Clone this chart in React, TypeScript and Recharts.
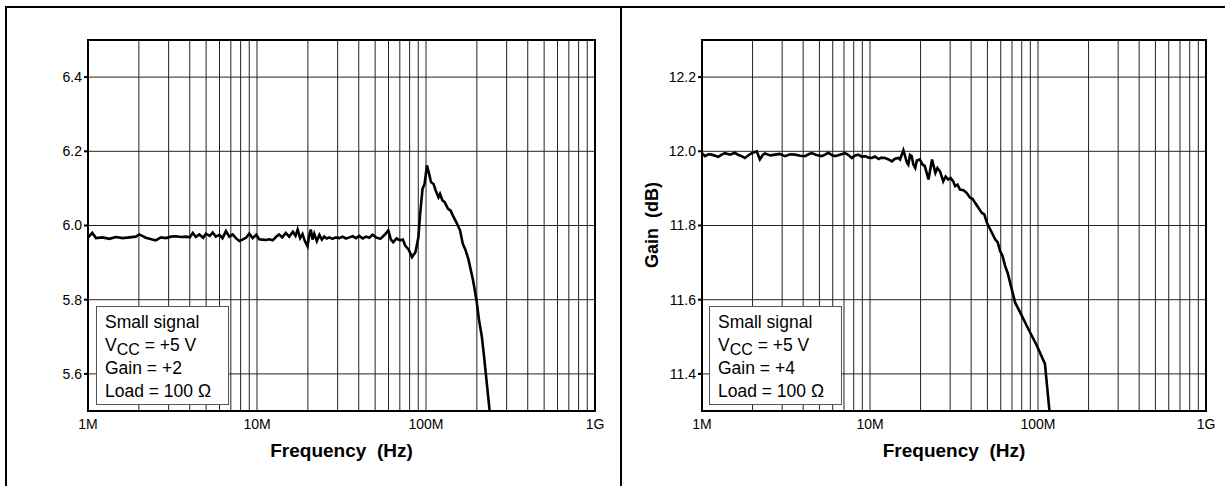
import React from 'react';
import { LineChart, Line, XAxis, YAxis, CartesianGrid, ReferenceArea } from 'recharts';

// frequency in MHz, gain in dB
const gridTicks = [1, 2, 3, 4, 5, 6, 7, 8, 9, 10, 20, 30, 40, 50, 60, 70, 80, 90, 100, 200, 300, 400, 500, 600, 700, 800, 900, 1000];
const decadeLabels: Record<number, string> = { 1: '1M', 10: '10M', 100: '100M', 1000: '1G' };

const gain2Ticks = [5.6, 5.8, 6.0, 6.2, 6.4];
const gain4Ticks = [11.4, 11.6, 11.8, 12.0, 12.2];

const gain2Freq = [
  1.0, 1.06, 1.115, 1.22, 1.34, 1.46, 1.6, 1.76, 1.92, 2.01, 2.2, 2.4, 2.52, 2.7, 2.89, 3.1, 3.32, 3.55, 3.8, 4.0,
  4.17, 4.35, 4.56, 4.8, 4.99, 5.25, 5.47, 5.7, 5.99, 6.25, 6.55, 6.85, 7.18, 7.5, 7.86, 8.2, 8.61, 9.0, 9.43, 9.9,
  10.3, 10.8, 11.3, 11.8, 12.4, 13.0, 13.5, 14.1, 14.8, 15.5, 16.3, 16.9, 17.4, 18.0, 18.6, 19.2, 19.9, 20.3, 20.8, 21.3,
  21.8, 22.6, 23.4, 24.2, 25.0, 25.9, 26.8, 28.0, 29.3, 30.7, 32.1, 33.6, 35.2, 36.8, 38.5, 40.3, 42.2, 44.2, 46.2, 48.3,
  50.6, 53.7, 57.0, 59.8, 62.0, 64.0, 67.0, 70.4, 73.0, 75.3, 79.0, 82.6, 86.6, 90.2, 92.3, 95.4, 98.1, 101.3, 104.9, 107,
  110.8, 114, 118.5, 121, 125, 129, 135, 140, 144, 150, 159, 165, 171, 178, 190, 199, 206, 214, 219, 226, 238,
];
const gain2Values = [
  5.967, 5.98, 5.966, 5.968, 5.964, 5.969, 5.966, 5.968, 5.97, 5.976, 5.967, 5.962, 5.96, 5.968, 5.966, 5.97, 5.971, 5.969, 5.97, 5.968,
  5.98, 5.969, 5.976, 5.967, 5.978, 5.972, 5.981, 5.97, 5.975, 5.966, 5.985, 5.97, 5.976, 5.966, 5.958, 5.962, 5.967, 5.978, 5.966, 5.975,
  5.963, 5.962, 5.961, 5.963, 5.96, 5.97, 5.976, 5.968, 5.98, 5.97, 5.983, 5.972, 5.989, 5.966, 5.977, 5.958, 5.944, 5.97, 5.989, 5.962,
  5.978, 5.958, 5.975, 5.962, 5.97, 5.965, 5.968, 5.964, 5.968, 5.966, 5.97, 5.965, 5.968, 5.971, 5.966, 5.972, 5.965, 5.97, 5.967, 5.975,
  5.968, 5.964, 5.975, 5.987, 5.962, 5.955, 5.965, 5.96, 5.962, 5.946, 5.935, 5.915, 5.928, 5.969, 6.031, 6.099, 6.112, 6.162, 6.135, 6.117,
  6.112, 6.095, 6.076, 6.085, 6.068, 6.063, 6.045, 6.04, 6.027, 6.012, 5.987, 5.951, 5.935, 5.91, 5.852, 5.798, 5.745, 5.7, 5.66, 5.6, 5.5,
];

const gain4Freq = [
  1.0, 1.042, 1.09, 1.14, 1.2, 1.25, 1.31, 1.37, 1.47, 1.57, 1.65, 1.72, 1.8, 1.9, 1.98, 2.12, 2.21, 2.3, 2.37, 2.55,
  2.72, 2.9, 3.12, 3.35, 3.58, 3.85, 4.11, 4.3, 4.5, 4.8, 5.17, 5.4, 5.66, 5.95, 6.2, 6.6, 7.11, 7.45, 7.8, 8.15,
  8.54, 8.95, 9.36, 9.8, 10.26, 10.7, 11.24, 11.7, 12.3, 12.9, 13.5, 14.1, 14.78, 15.1, 15.8, 16.1, 16.6, 16.9, 17.3, 17.7,
  18.1, 18.6, 19.0, 19.8, 20.5, 21.2, 22.3, 23.4, 24.5, 25.2, 26.1, 27.3, 28.2, 29.2, 30.2, 31.3, 32.1, 33.2, 34.3, 36.0,
  37.6, 39.4, 40.8, 42.2, 44.2, 46.3, 47.9, 49.6, 51.9, 55.6, 57.5, 59.5, 61.5, 63.7, 66.0, 68.2, 70.5, 73.1, 78.3, 87.6,
  98.5, 110, 117,
];
const gain4Values = [
  11.995, 11.987, 11.992, 11.991, 11.988, 11.985, 11.991, 11.995, 11.991, 11.996, 11.99, 11.987, 11.982, 11.99, 11.995, 12.0, 11.978, 11.99, 11.994, 11.989,
  11.991, 11.993, 11.987, 11.992, 11.991, 11.988, 11.987, 11.992, 11.995, 11.99, 11.987, 11.991, 11.996, 11.989, 11.987, 11.991, 11.995, 11.99, 11.982, 11.989,
  11.991, 11.985, 11.987, 11.983, 11.982, 11.986, 11.979, 11.983, 11.982, 11.978, 11.973, 11.98, 11.982, 11.978, 12.003, 11.99, 11.969, 11.964, 11.99, 11.987,
  11.965, 11.955, 11.975, 11.978, 11.965, 11.96, 11.924, 11.978, 11.942, 11.955, 11.946, 11.919, 11.932, 11.924, 11.928, 11.919, 11.906, 11.91, 11.897, 11.895,
  11.888, 11.875, 11.872, 11.861, 11.848, 11.834, 11.83, 11.808, 11.79, 11.763, 11.755, 11.731, 11.718, 11.691, 11.672, 11.646, 11.62, 11.592, 11.566, 11.521,
  11.476, 11.427, 11.3,
];

const FONT = '"Liberation Sans", Arial, Helvetica, sans-serif';

interface PanelProps {
  freq: number[];
  values: number[];
  yDomain: [number, number];
  yTicks: number[];
  left: number;
  width: number;
  yAxisWidth: number;
  rightMargin: number;
  gainText: string;
  boxLeft: number;
  showYLabel?: boolean;
}

const Panel: React.FC<PanelProps> = ({ freq, values, yDomain, yTicks, left, width, yAxisWidth, rightMargin, gainText, boxLeft, showYLabel }) => {
  const data = freq.map((f, i) => ({ f, g: values[i] }));
  const plotLeft = yAxisWidth;
  const plotRight = width - rightMargin;
  return (
    <div style={{ position: 'absolute', left, top: 0, width, height: 486 }}>
      <LineChart width={width} height={486} data={data} margin={{ top: 40, right: rightMargin, left: 0, bottom: 45 }}>
        <CartesianGrid stroke="#222" strokeWidth={1} />
        <XAxis
          dataKey="f"
          type="number"
          scale="log"
          domain={[1, 1000]}
          ticks={gridTicks}
          interval={0}
          allowDataOverflow
          tickLine={false}
          axisLine={false}
          height={30}
          tickFormatter={(v: number) => decadeLabels[v] ?? ''}
          tick={{ fill: '#000', fontSize: 14, fontFamily: FONT }}
        />
        <YAxis
          type="number"
          domain={yDomain}
          ticks={yTicks}
          interval={0}
          allowDataOverflow
          width={yAxisWidth}
          tickLine={{ stroke: '#000', strokeWidth: 2 }}
          tickSize={4}
          axisLine={false}
          tickMargin={2}
          tickFormatter={(v: number) => v.toFixed(1)}
          tick={{ fill: '#000', fontSize: 14, fontFamily: FONT }}
        />
        <ReferenceArea x1={1} x2={1000} y1={yDomain[0]} y2={yDomain[1]} fill="none" stroke="#000" strokeWidth={2} />
        <Line dataKey="g" type="linear" stroke="#000" strokeWidth={2.6} dot={false} isAnimationActive={false} />
      </LineChart>
      <div
        style={{
          position: 'absolute', left: boxLeft, top: 306, width: 133, height: 99,
          border: '1px solid #555', background: '#fff', boxSizing: 'border-box', whiteSpace: 'nowrap',
          fontFamily: FONT, fontSize: 17.5, lineHeight: '22.5px', padding: '4px 0 0 8px', color: '#000',
        }}
      >
        <div>Small signal</div>
        <div>V<span style={{ fontSize: 16, position: 'relative', top: 4 }}>CC</span> = +5 V</div>
        <div>{gainText}</div>
        <div>Load = 100 Ω</div>
      </div>
      <div
        style={{
          position: 'absolute', left: plotLeft, width: plotRight - plotLeft, top: 439, textAlign: 'center',
          fontFamily: FONT, fontSize: 19, fontWeight: 'bold', color: '#000', whiteSpace: 'pre', lineHeight: '24px',
        }}
      >
        {'Frequency  (Hz)'}
      </div>
      {showYLabel && (
        <div
          style={{
            position: 'absolute', left: 32 - 60, top: 225 - 12, width: 120, height: 24, textAlign: 'center',
            transform: 'rotate(-90deg)', fontFamily: FONT, fontSize: 18, fontWeight: 'bold', color: '#000',
            lineHeight: '24px', whiteSpace: 'pre',
          }}
        >
          {'Gain  (dB)'}
        </div>
      )}
    </div>
  );
};

export default function App() {
  return (
    <div style={{ position: 'absolute', left: 0, top: 0, width: 1225, height: 486, background: '#fff', overflow: 'hidden' }}>
      <Panel
        freq={gain2Freq}
        values={gain2Values}
        yDomain={[5.5, 6.5]}
        yTicks={gain2Ticks}
        left={0}
        width={620}
        yAxisWidth={88}
        rightMargin={25}
        gainText="Gain = +2"
        boxLeft={96}
      />
      <Panel
        freq={gain4Freq}
        values={gain4Values}
        yDomain={[11.3, 12.3]}
        yTicks={gain4Ticks}
        left={620}
        width={605}
        yAxisWidth={82}
        rightMargin={19}
        gainText="Gain = +4"
        boxLeft={89}
        showYLabel
      />
      <div style={{ position: 'absolute', left: 5, top: 6, width: 1220, height: 2, background: '#000' }} />
      <div style={{ position: 'absolute', left: 5, top: 6, width: 2, height: 480, background: '#000' }} />
      <div style={{ position: 'absolute', left: 620, top: 6, width: 2, height: 480, background: '#000' }} />
    </div>
  );
}
